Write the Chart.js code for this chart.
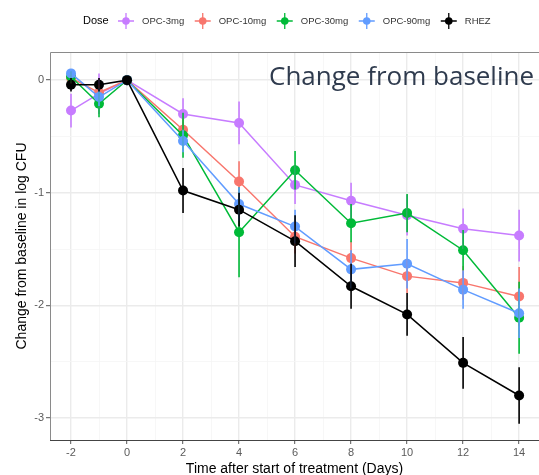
<!DOCTYPE html>
<html>
<head>
<meta charset="utf-8">
<script src="https://cdn.jsdelivr.net/npm/chart.js@4.4.1/dist/chart.umd.min.js"></script>
<style>
  html, body { margin: 0; padding: 0; background: #fff; }
  #wrap { position: relative; width: 539px; height: 475px; overflow: hidden; }
  #note {
    position: absolute; left: 269px; top: 57px;
    font-family: "Open Sans", sans-serif; font-size: 26px;
    color: #2f3b4e; white-space: nowrap;
  }
</style>
</head>
<body>
<div id="wrap">
  <canvas id="doseChart" width="539" height="475"></canvas>
  <div id="note">Change from baseline</div>
</div>
<script>
// days on study, relative to start of treatment
const days = [-2, -1, 0, 2, 4, 6, 8, 10, 12, 14];

// mean change from baseline (log CFU) and error half-widths
const opc3 = [-0.27, -0.12, 0, -0.30, -0.38, -0.93, -1.07, -1.20, -1.32, -1.38];
const opc3Err = [0.15, 0.18, 0, 0.14, 0.19, 0.17, 0.16, 0.18, 0.18, 0.23];

const opc10 = [0.02, -0.11, 0, -0.44, -0.90, -1.39, -1.58, -1.74, -1.80, -1.92];
const opc10Err = [0.05, 0.07, 0, 0.10, 0.18, 0.15, 0.15, 0.15, 0.15, 0.26];

const opc30 = [0.03, -0.21, 0, -0.49, -1.35, -0.80, -1.27, -1.18, -1.51, -2.11];
const opc30Err = [0.05, 0.12, 0, 0.20, 0.40, 0.17, 0.17, 0.17, 0.18, 0.32];

const opc90 = [0.06, -0.15, 0, -0.54, -1.10, -1.30, -1.68, -1.63, -1.86, -2.07];
const opc90Err = [0.04, 0.08, 0, 0.10, 0.15, 0.15, 0.17, 0.22, 0.17, 0.22];

const rhez = [-0.04, -0.04, 0, -0.98, -1.15, -1.43, -1.83, -2.08, -2.51, -2.80];
const rhezErr = [0.06, 0.06, 0, 0.20, 0.15, 0.23, 0.20, 0.19, 0.23, 0.25];

const doseLabels = ['OPC-3mg', 'OPC-10mg', 'OPC-30mg', 'OPC-90mg', 'RHEZ'];
const doseColors = ['#C77CFF', '#F8766D', '#00BA38', '#619CFF', '#000000'];

// tick positions (odd days / half units are minor grid lines)
const xTicks = [-2, -1, 0, 1, 2, 3, 4, 5, 6, 7, 8, 9, 10, 11, 12, 13, 14];
const yTicks = [-3, -2.5, -2, -1.5, -1, -0.5, 0];

const seriesValues = [opc3, opc10, opc30, opc90, rhez];
const seriesErrors = [opc3Err, opc10Err, opc30Err, opc90Err, rhezErr];

function toPoints(values, errs) {
    return days.map((d, i) => ({ x: d, y: values[i], err: errs[i] }));
}

const datasets = doseLabels.map((label, i) => ({
    label: label,
    data: toPoints(seriesValues[i], seriesErrors[i]),
    borderColor: doseColors[i],
    backgroundColor: doseColors[i],
    borderWidth: 1.5,
    pointRadius: 5,
    pointHoverRadius: 5,
    pointBorderWidth: 0,
    tension: 0,
    order: doseLabels.length - i  // RHEZ drawn last (on top)
}));

// vertical error bars, drawn with the chart's own scales
const errorBars = {
    id: 'errorBars',
    afterDatasetsDraw(chart) {
        const ctx = chart.ctx;
        const xs = chart.scales.x, ys = chart.scales.y;
        ctx.save();
        ctx.lineWidth = 1.6;
        chart.data.datasets.forEach((ds) => {
            ctx.strokeStyle = ds.borderColor;
            ds.data.forEach((p) => {
                if (!p.err) return;
                const px = xs.getPixelForValue(p.x);
                ctx.beginPath();
                ctx.moveTo(px, ys.getPixelForValue(p.y + p.err));
                ctx.lineTo(px, ys.getPixelForValue(p.y - p.err));
                ctx.stroke();
            });
        });
        ctx.restore();
    }
};

// grey panel frame (right side is cut off in the original)
const panelFrame = {
    id: 'panelFrame',
    afterDraw(chart) {
        const a = chart.chartArea;
        const ctx = chart.ctx;
        ctx.save();
        ctx.strokeStyle = '#8a8a8a';
        ctx.lineWidth = 1;
        ctx.beginPath();
        ctx.moveTo(a.right, a.top + 0.5);
        ctx.lineTo(a.left + 0.5, a.top + 0.5);
        ctx.lineTo(a.left + 0.5, a.bottom);
        ctx.stroke();
        ctx.beginPath();
        ctx.strokeStyle = '#444';
        ctx.moveTo(a.left, a.bottom + 0.5);
        ctx.lineTo(a.right, a.bottom + 0.5);
        ctx.stroke();
        ctx.restore();
    }
};

// ggplot-style legend: "Dose" followed by point+cross keys
const doseLegend = {
    id: 'doseLegend',
    afterDraw(chart) {
        const ctx = chart.ctx;
        const y = 21;
        ctx.save();
        ctx.textBaseline = 'middle';
        ctx.fillStyle = '#000';
        ctx.font = '11px "Liberation Sans", Arial, sans-serif';
        ctx.fillText('Dose', 83, y);
        let x = 117;
        ctx.font = '9.5px "Liberation Sans", Arial, sans-serif';
        chart.data.datasets.forEach((ds) => {
            const cx = x + 9;
            ctx.strokeStyle = ds.borderColor;
            ctx.fillStyle = ds.borderColor;
            ctx.lineWidth = 1.3;
            ctx.beginPath();
            ctx.moveTo(cx - 8, y); ctx.lineTo(cx + 8, y);
            ctx.moveTo(cx, y - 8); ctx.lineTo(cx, y + 8);
            ctx.stroke();
            ctx.beginPath();
            ctx.arc(cx, y, 3.8, 0, Math.PI * 2);
            ctx.fill();
            ctx.fillStyle = '#333';
            ctx.fillText(ds.label, x + 25, y);
            x += 25 + ctx.measureText(ds.label).width + 9.5;
        });
        ctx.restore();
    }
};

new Chart(document.getElementById('doseChart'), {
    type: 'line',
    data: { datasets: datasets },
    options: {
        responsive: false,
        animation: false,
        layout: { autoPadding: false, padding: { top: 52, left: 0, right: 0, bottom: 0 } },
        plugins: {
            legend: { display: false },
            tooltip: { enabled: false }
        },
        scales: {
            x: {
                type: 'linear',
                min: -2.75,
                max: 14.71,
                afterBuildTicks: (scale) => { scale.ticks = xTicks.map(v => ({ value: v })); },
                afterFit: (scale) => {
                    scale.height = 35;
                    scale.paddingLeft = 0;
                    scale.paddingRight = 0;
                },
                border: { display: false },
                grid: {
                    color: (c) => (c.tick && c.tick.value % 2 === 0) ? '#ebebeb' : '#f5f5f5',
                    lineWidth: (c) => (c.tick && c.tick.value % 2 === 0) ? 1.4 : 0.8,
                    tickColor: (c) => (c.tick && c.tick.value % 2 === 0) ? '#555' : 'rgba(0,0,0,0)',
                    tickLength: 4,
                    tickWidth: 1
                },
                ticks: {
                    autoSkip: false,
                    maxRotation: 0,
                    padding: 2,
                    color: '#5a5a5a',
                    font: { family: '"Liberation Sans", Arial, sans-serif', size: 11 },
                    callback: (v) => (v % 2 === 0 ? String(v) : '')
                },
                title: {
                    display: true,
                    text: 'Time after start of treatment (Days)',
                    color: '#000',
                    font: { family: '"Liberation Sans", Arial, sans-serif', size: 14 },
                    padding: { top: 0, bottom: -3 }
                }
            },
            y: {
                type: 'linear',
                min: -3.195,
                max: 0.25,
                afterBuildTicks: (scale) => { scale.ticks = yTicks.map(v => ({ value: v })); },
                afterFit: (scale) => { scale.width = 50; },
                border: { display: false },
                grid: {
                    color: (c) => (c.tick && Number.isInteger(c.tick.value)) ? '#ebebeb' : '#f5f5f5',
                    lineWidth: (c) => (c.tick && Number.isInteger(c.tick.value)) ? 1.4 : 0.8,
                    tickColor: (c) => (c.tick && Number.isInteger(c.tick.value)) ? '#555' : 'rgba(0,0,0,0)',
                    tickLength: 4,
                    tickWidth: 1
                },
                ticks: {
                    autoSkip: false,
                    padding: 2,
                    color: '#5a5a5a',
                    font: { family: '"Liberation Sans", Arial, sans-serif', size: 11 },
                    callback: (v) => (Number.isInteger(v) ? String(v) : '')
                },
                title: {
                    display: true,
                    text: 'Change from baseline in log CFU',
                    color: '#000',
                    font: { family: '"Liberation Sans", Arial, sans-serif', size: 14 },
                    padding: { top: 14, bottom: 0 }
                }
            }
        }
    },
    plugins: [errorBars, panelFrame, doseLegend]
});
</script>
</body>
</html>
